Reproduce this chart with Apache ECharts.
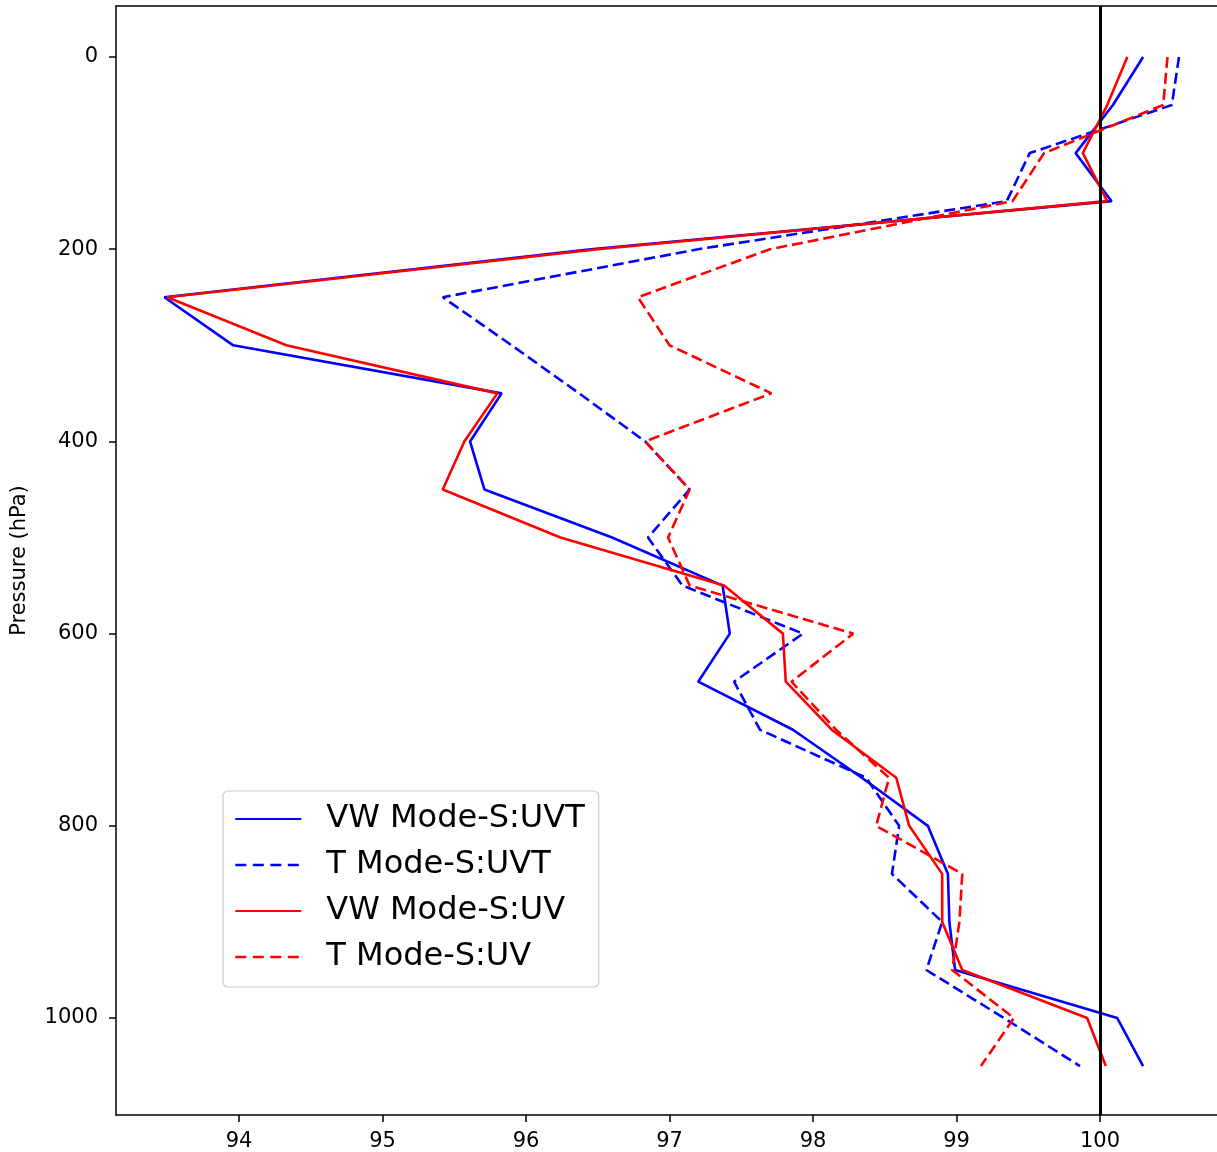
<!DOCTYPE html>
<html>
<head>
<meta charset="utf-8">
<script src="https://cdn.jsdelivr.net/npm/echarts@6/dist/echarts.min.js"></script>
<style>
  html, body { margin: 0; padding: 0; background: #fff; }
  #chart { width: 1217px; height: 1152px; }
</style>
</head>
<body>
<div id="chart"></div>
<script>
// Pressure levels (hPa)
const pressure = [0, 50, 100, 150, 200, 250, 300, 350, 400, 450, 500,
                  550, 600, 650, 700, 750, 800, 850, 900, 950, 1000, 1050];

// Percentage values per level for each experiment
const vwUVT = [100.30, 100.09, 99.83, 100.08, 96.45, 93.48, 93.96, 95.83, 95.61, 95.71, 96.60,
               97.37, 97.42, 97.20, 97.86, 98.34, 98.80, 98.94, 98.95, 98.99, 100.12, 100.30];
const tUVT  = [100.55, 100.50, 99.51, 99.35, 97.20, 95.42, 95.90, 96.37, 96.83, 97.14, 96.85,
               97.09, 97.93, 97.45, 97.63, 98.37, 98.60, 98.55, 98.90, 98.79, 99.33, 99.86];
const vwUV  = [100.19, 100.05, 99.88, 100.05, 96.50, 93.50, 94.33, 95.80, 95.57, 95.42, 96.24,
               97.38, 97.79, 97.81, 98.13, 98.58, 98.67, 98.90, 98.90, 99.04, 99.91, 100.04];
const tUV   = [100.47, 100.44, 99.61, 99.39, 97.70, 96.78, 97.00, 97.71, 96.83, 97.14, 96.99,
               97.14, 98.28, 97.85, 98.16, 98.53, 98.44, 99.04, 99.02, 98.97, 99.40, 99.17];

// Tick labels
const xTicks = [94, 95, 96, 97, 98, 99, 100];
const yTicks = [0, 200, 400, 600, 800, 1000];

const seriesNames = ['VW Mode-S:UVT', 'T Mode-S:UVT', 'VW Mode-S:UV', 'T Mode-S:UV'];
const seriesValues = [vwUVT, tUVT, vwUV, tUV];
const seriesColors = ['#0000ff', '#0000ff', '#ff0000', '#ff0000'];
const seriesDashed = [false, true, false, true];

const FONT = 'DejaVu Sans';
const X_MIN = 93.1429, X_MAX = 100.815;

const chart = echarts.init(document.getElementById('chart'), null, { renderer: 'canvas' });

const series = seriesNames.map((name, i) => ({
  name: name,
  type: 'line',
  xAxisIndex: 0,
  data: pressure.map((p, k) => [seriesValues[i][k], p]),
  symbol: 'none',
  showSymbol: false,
  animation: false,
  z: 2 + i,
  lineStyle: {
    color: seriesColors[i],
    width: 2.6,
    type: seriesDashed[i] ? [11, 5] : 'solid'
  },
  itemStyle: { color: seriesColors[i] }
}));

// Reference line at 100 %
series.push({
  name: 'ref',
  type: 'line',
  xAxisIndex: 0,
  data: [],
  silent: true,
  animation: false,
  z: 10,
  markLine: {
    silent: true,
    symbol: ['none', 'none'],
    label: { show: false },
    animation: false,
    lineStyle: { color: '#000', width: 3, type: 'solid' },
    data: [{ xAxis: 100 }]
  }
});

const axisLineStyle = { color: '#000', width: 1.5 };

// Legend entries: dashed handles get a tighter pattern so four dashes fit
const legendData = seriesNames.map((name, i) => seriesDashed[i]
  ? { name: name, lineStyle: { type: [11, 6.5], width: 2.6, color: seriesColors[i] } }
  : { name: name });

const option = {
  backgroundColor: '#fff',
  animation: false,
  grid: { left: 116, top: 6, right: 0, bottom: 37, show: false },
  xAxis: [{
    type: 'value',
    position: 'bottom',
    min: X_MIN,
    max: X_MAX,
    axisLine: { show: true, onZero: false, lineStyle: axisLineStyle },
    axisTick: { show: true, length: 7, lineStyle: axisLineStyle, customValues: xTicks },
    axisLabel: {
      customValues: xTicks, color: '#000', fontFamily: FONT, fontSize: 21, margin: 16,
      formatter: v => String(v)
    },
    splitLine: { show: false }
  }, {
    // top frame edge
    type: 'value',
    position: 'top',
    min: X_MIN,
    max: X_MAX,
    axisLine: { show: true, onZero: false, lineStyle: axisLineStyle },
    axisTick: { show: false },
    axisLabel: { show: false },
    splitLine: { show: false }
  }],
  yAxis: {
    type: 'value',
    inverse: true,
    min: -53.07,
    max: 1100.9,
    name: 'Pressure (hPa)',
    nameLocation: 'middle',
    nameGap: 86,
    nameRotate: 90,
    nameTextStyle: { color: '#000', fontFamily: FONT, fontSize: 21 },
    axisLine: { show: true, onZero: false, lineStyle: axisLineStyle },
    axisTick: { show: true, length: 7, lineStyle: axisLineStyle, customValues: yTicks },
    axisLabel: {
      customValues: yTicks, color: '#000', fontFamily: FONT, fontSize: 21, margin: 18,
      formatter: v => String(v)
    },
    splitLine: { show: false }
  },
  legend: {
    data: legendData,
    orient: 'vertical',
    left: 223,
    top: 791,
    itemWidth: 66,
    itemHeight: 14,
    itemGap: 12,
    padding: [11, 14, 13, 11],
    backgroundColor: '#fff',
    borderColor: '#cccccc',
    borderWidth: 1.2,
    borderRadius: 5,
    itemStyle: { opacity: 0 },
    textStyle: { color: '#000', fontFamily: FONT, fontSize: 32, lineHeight: 34, padding: [0, 0, 0, 20] }
  },
  series: series
};

chart.setOption(option);
</script>
</body>
</html>
